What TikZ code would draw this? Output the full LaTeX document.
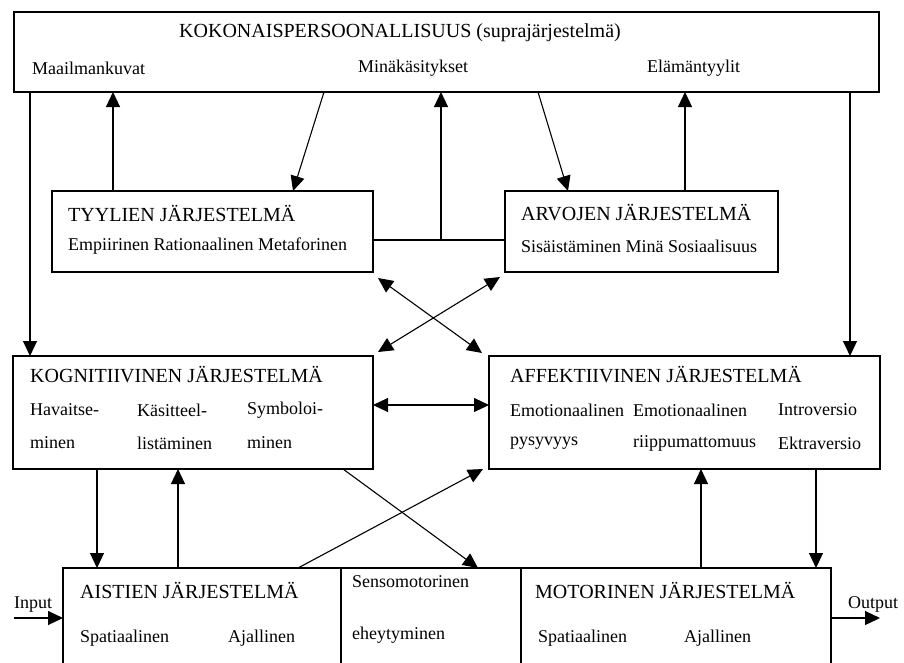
\documentclass[tikz,border=0pt]{standalone}
\usepackage{fontspec}
\setmainfont{Liberation Serif}
\usetikzlibrary{arrows.meta}

\begin{document}
\begin{tikzpicture}[x=1pt, y=-1pt, >={Triangle[length=15pt, width=14pt]},
    laatikko/.style={draw, line width=1.3pt, rectangle, inner sep=0pt, outer sep=0pt},
    teksti/.style={font=\fontsize{18}{20}\selectfont, inner sep=0pt, anchor=west},
    otsikko/.style={teksti, font=\fontsize{20}{22}\selectfont},
    nuoli/.style={->, line width=1.1pt},
    kaksi/.style={<->, line width=1.1pt}]
  \clip (0,0) rectangle (904,662);
  % laatikot
  \node[laatikko, minimum width=865pt, minimum height=80pt] (koko) at (446.5,52) {};
  \node[laatikko, minimum width=321pt, minimum height=81pt] (tyyl) at (212.5,231.5) {};
  \node[laatikko, minimum width=273pt, minimum height=81pt] (arvo) at (641.5,231.5) {};
  \node[laatikko, minimum width=360pt, minimum height=113pt] (kog) at (193,412.5) {};
  \node[laatikko, minimum width=391pt, minimum height=113pt] (aff) at (684.5,412.5) {};
  \node[laatikko, minimum width=278pt, minimum height=132pt] (aist) at (202,634) {};
  \node[laatikko, minimum width=180pt, minimum height=132pt] (senso) at (431,634) {};
  \node[laatikko, minimum width=310pt, minimum height=132pt] (moto) at (676,634) {};
  % tekstit
  \node[otsikko] (kokoT) at (179,33) {KOKONAISPERSOONALLISUUS (suprajärjestelmä)};
  \node[teksti] (maail) at (32,68) {Maailmankuvat};
  \node[teksti] (minak) at (358,68) {Minäkäsitykset};
  \node[teksti] (elama) at (647,68) {Elämäntyylit};
  \node[otsikko] (tyylT) at (68,213) {TYYLIEN JÄRJESTELMÄ};
  \node[teksti] (tyylA) at (68,246) {Empiirinen Rationaalinen Metaforinen};
  \node[otsikko] (arvoT) at (521,213) {ARVOJEN JÄRJESTELMÄ};
  \node[teksti] (arvoA) at (521,246) {Sisäistäminen Minä Sosiaalisuus};
  \node[otsikko] (kogT) at (30,375) {KOGNITIIVINEN JÄRJESTELMÄ};
  \node[teksti] (hav1) at (30,410) {Havaitse-};
  \node[teksti] (hav2) at (30,443) {minen};
  \node[teksti] (kas1) at (137,410) {Käsitteel-};
  \node[teksti] (kas2) at (137,443) {listäminen};
  \node[teksti] (sym1) at (247,410) {Symboloi-};
  \node[teksti] (sym2) at (247,443) {minen};
  \node[otsikko] (affT) at (510,375) {AFFEKTIIVINEN JÄRJESTELMÄ};
  \node[teksti] (emo1) at (510,410) {Emotionaalinen};
  \node[teksti] (emo2) at (510,443) {pysyvyys};
  \node[teksti] (emo3) at (633,410) {Emotionaalinen};
  \node[teksti] (emo4) at (633,443) {riippumattomuus};
  \node[teksti] (intro) at (778,410) {Introversio};
  \node[teksti] (ekstr) at (778,443) {Ektraversio};
  \node[otsikko] (aistT) at (80,590) {AISTIEN JÄRJESTELMÄ};
  \node[teksti] (spat1) at (80,638) {Spatiaalinen};
  \node[teksti] (ajal1) at (228,638) {Ajallinen};
  \node[teksti] (sens1) at (352,582) {Sensomotorinen};
  \node[teksti] (sens2) at (352,635) {eheytyminen};
  \node[otsikko] (motoT) at (535,590) {MOTORINEN JÄRJESTELMÄ};
  \node[teksti] (spat2) at (538,638) {Spatiaalinen};
  \node[teksti] (ajal2) at (684,638) {Ajallinen};
  \node[teksti] (inpT) at (14,605) {Input};
  \node[teksti] (outT) at (848,604) {Output};
  \coordinate (inp) at (14,618);
  \coordinate (outp) at (880,618);
  % yhteydet
  \draw[nuoli] ([xshift=16pt]koko.south west) -- ([xshift=16pt]koko.south west |- kog.north);
  \draw[nuoli] ([xshift=-29pt]koko.south east) -- ([xshift=-29pt]koko.south east |- aff.north);
  \draw[nuoli] ([xshift=61pt]tyyl.north west) -- ([xshift=61pt]tyyl.north west |- koko.south);
  \draw[nuoli] ([xshift=310pt]koko.south west) -- ([xshift=241pt]tyyl.north west);
  \draw[nuoli] ([xshift=524pt]koko.south west) -- ([xshift=63pt]arvo.north west);
  \draw[nuoli] ([xshift=180pt]arvo.north west) -- ([xshift=180pt]arvo.north west |- koko.south);
  \draw[line width=1.1pt] ([yshift=-8.5pt]tyyl.east) -- ([yshift=-8.5pt]tyyl.east -| arvo.west);
  \coordinate (liitos) at ([xshift=68pt, yshift=-8.5pt]tyyl.east);
  \draw[nuoli] (liitos) -- (liitos |- koko.south);
  \draw[kaksi] ([xshift=5pt, yshift=-6pt]tyyl.south east) -- ([xshift=-7pt, yshift=3pt]aff.north west);
  \draw[kaksi] ([xshift=-5pt, yshift=-5pt]arvo.south west) -- ([xshift=5pt, yshift=4pt]kog.north east);
  \draw[kaksi] ([yshift=7.5pt]kog.east) -- ([yshift=7.5pt]kog.east -| aff.west);
  \draw[nuoli] ([xshift=84pt]kog.south west) -- ([xshift=84pt]kog.south west |- aist.north);
  \draw[nuoli] ([xshift=165pt]kog.south west |- aist.north) -- ([xshift=165pt]kog.south west);
  \draw[nuoli] ([xshift=-30pt]kog.south east) -- ([xshift=137pt]senso.north west);
  \draw[nuoli] ([xshift=235pt]aist.north west) -- ([xshift=-6pt]aff.south west);
  \draw[nuoli] ([xshift=212pt]aff.south west |- moto.north) -- ([xshift=212pt]aff.south west);
  \draw[nuoli] ([xshift=327pt]aff.south west) -- ([xshift=327pt]aff.south west |- moto.north);
  \draw[nuoli] (inp) -- (inp -| aist.west);
  \draw[nuoli] (outp -| moto.east) -- (outp);
\end{tikzpicture}
\end{document}
